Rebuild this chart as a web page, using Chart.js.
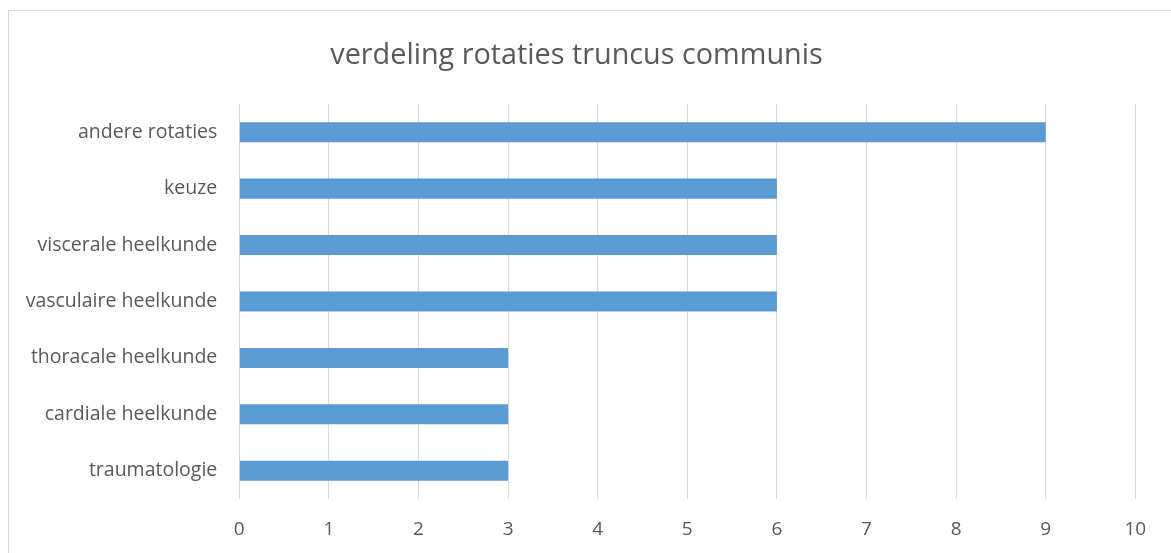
<!DOCTYPE html>
<html>
<head>
<meta charset="utf-8">
<script src="https://cdn.jsdelivr.net/npm/chart.js@4/dist/chart.umd.min.js"></script>
<style>
  html, body { margin: 0; padding: 0; background: #ffffff; overflow: hidden; }
  #frame { position: absolute; left: 8px; top: 10px; width: 1400px; height: 800px; border: 1px solid #D9D9D9; box-sizing: border-box; }
  #wrap { position: absolute; left: 0; top: 0; width: 1171px; height: 553px; }
</style>
</head>
<body>
<div id="frame"></div>
<div id="wrap"><canvas id="c" width="1171" height="553"></canvas></div>
<script>
const titleText = 'verdeling rotaties truncus communis';
const categories = ['andere rotaties', 'keuze', 'viscerale heelkunde', 'vasculaire heelkunde', 'thoracale heelkunde', 'cardiale heelkunde', 'traumatologie'];
const values = [9, 6, 6, 6, 3, 3, 3];
const xTicks = [0, 1, 2, 3, 4, 5, 6, 7, 8, 9, 10];

const FONT = "'Open Sans', 'Noto Sans', sans-serif";
const TEXT = '#595959';

new Chart(document.getElementById('c'), {
  type: 'bar',
  data: {
    labels: categories,
    datasets: [{
      data: values,
      backgroundColor: '#5B9BD5',
      borderWidth: 0,
      categoryPercentage: 1,
      barPercentage: 0.355
    }]
  },
  options: {
    indexAxis: 'y',
    responsive: false,
    animation: false,
    devicePixelRatio: 1,
    layout: { padding: { left: 17.7, right: 35.7, top: 0, bottom: 0 } },
    plugins: {
      legend: { display: false },
      tooltip: { enabled: false },
      title: {
        display: true,
        text: titleText,
        color: TEXT,
        font: { family: FONT, size: 28.8, weight: 'normal', lineHeight: 1.2 },
        padding: { top: 39, bottom: 30.4 }
      }
    },
    scales: {
      x: {
        type: 'linear',
        min: 0,
        max: 10,
        afterBuildTicks: (s) => { s.ticks = xTicks.map(v => ({ value: v })); },
        afterFit: (s) => { s.height = 54; },
        grid: { color: '#D9D9D9', lineWidth: 1, drawTicks: false },
        border: { display: false },
        ticks: { color: TEXT, font: { family: FONT, size: 19 }, padding: 19, maxRotation: 0 }
      },
      y: {
        type: 'category',
        afterFit: (s) => { s.width = 239.3 - 17.7; },
        grid: { display: false, drawTicks: false },
        border: { display: false },
        ticks: { color: TEXT, font: { family: FONT, size: 19.5 }, padding: 22 }
      }
    }
  }
});
</script>
</body>
</html>
